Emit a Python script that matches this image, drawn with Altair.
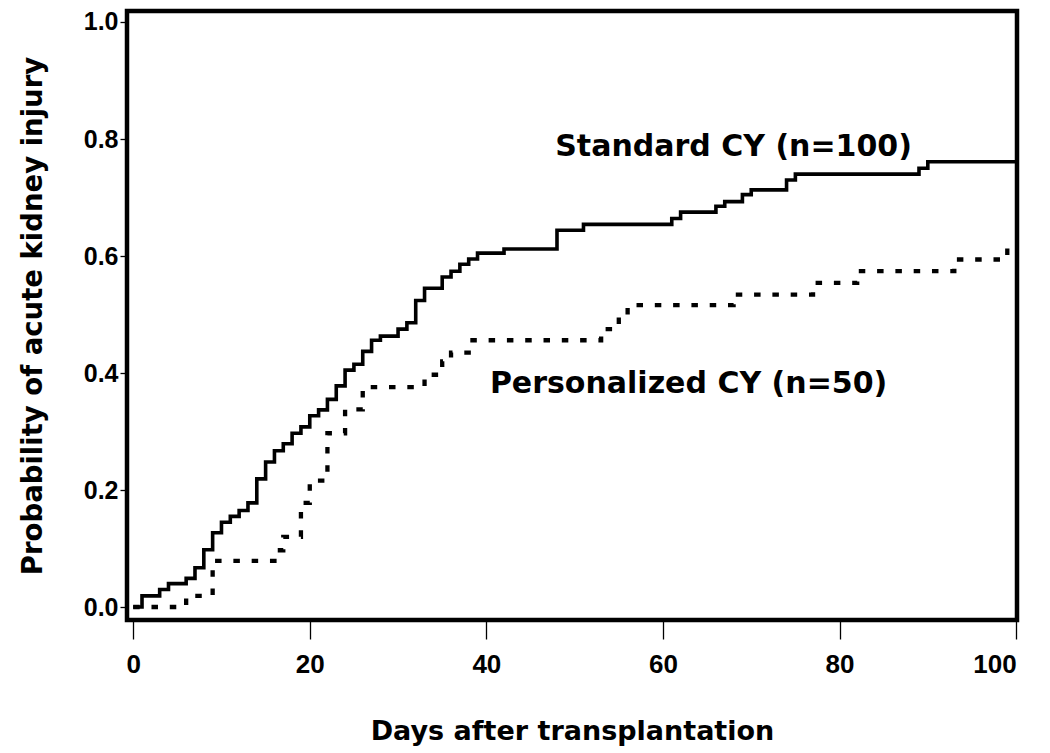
import altair as alt
import pandas as pd

# Standard CY (n=100): step points (day, cumulative probability)
std_days = [0, 1, 3, 4, 6, 7, 8, 9, 10, 11, 12, 13, 14, 15, 16, 17, 18, 19, 20, 21,
            22, 23, 24, 25, 26, 27, 28, 30, 31, 32, 33, 35, 36, 37, 38, 39, 42, 48, 51, 61,
            62, 66, 67, 69, 70, 74, 75, 89, 90, 100]
std_prob = [0, .019, .03, .04, .049, .067, .098, .127, .145, .155, .165, .178, .219, .248, .267, .279, .297, .308, .327, .337,
            .355, .378, .405, .415, .437, .456, .463, .475, .486, .524, .545, .564, .574, .586, .595, .605, .612, .644, .654, .664,
            .675, .685, .693, .705, .713, .730, .740, .750, .761, .761]

# Personalized CY (n=50)
per_days = [0, 6, 9, 16, 17, 19, 20, 22, 24, 26, 33, 35, 36, 38, 53, 55, 56, 68, 77, 82, 93, 99, 100]
per_prob = [0, .019, .079, .097, .12, .178, .216, .297, .338, .376, .397, .42, .435, .456, .475, .497, .516, .534, .554, .574, .594, .617, .617]

x_ticks = [0, 20, 40, 60, 80, 100]
y_ticks = [0.0, 0.2, 0.4, 0.6, 0.8, 1.0]

label_text = ["Standard CY (n=100)", "Personalized CY (n=50)"]
label_day = [47.8, 40.4]
label_prob = [0.787, 0.381]

std_df = pd.DataFrame({"day": std_days, "prob": std_prob})
per_df = pd.DataFrame({"day": per_days, "prob": per_prob})
lab_df = pd.DataFrame({"text": label_text, "day": label_day, "prob": label_prob})

xscale = alt.Scale(domain=[-0.7, 100.1], nice=False, zero=False)
yscale = alt.Scale(domain=[-0.0222, 1.0188], nice=False, zero=False)

xaxis = alt.Axis(values=x_ticks, title="Days after transplantation", grid=False, domain=False,
                 tickSize=19, tickWidth=1.3, tickColor="black",
                 labelFont="Liberation Sans", labelFontWeight="bold", labelFontSize=26,
                 labelColor="black", labelPadding=12,
                 titleFont="DejaVu Sans", titleFontWeight="bold", titleFontSize=27,
                 titleColor="black", titlePadding=41)
yaxis = alt.Axis(values=y_ticks, format=".1f", title="Probability of acute kidney injury",
                 grid=False, domain=False, tickSize=7, tickWidth=1.3, tickColor="black",
                 labelFont="Liberation Sans", labelFontWeight="bold", labelFontSize=25,
                 labelColor="black", labelPadding=2,
                 titleFont="DejaVu Sans", titleFontWeight="bold", titleFontSize=27.5,
                 titleColor="black", titlePadding=36)

std_line = alt.Chart(std_df).mark_line(interpolate="step-after", color="black", strokeWidth=3.6).encode(
    x=alt.X("day:Q", scale=xscale, axis=xaxis),
    y=alt.Y("prob:Q", scale=yscale, axis=yaxis),
)
per_line = alt.Chart(per_df).mark_line(interpolate="step-after", color="black", strokeWidth=4.3,
                                       strokeDash=[6.5, 11.8]).encode(
    x=alt.X("day:Q", scale=xscale),
    y=alt.Y("prob:Q", scale=yscale),
)
labels = alt.Chart(lab_df).mark_text(align="left", baseline="middle", font="DejaVu Sans",
                                     fontWeight="bold", fontSize=30, color="black").encode(
    x=alt.X("day:Q", scale=xscale),
    y=alt.Y("prob:Q", scale=yscale),
    text="text:N",
)

chart = alt.layer(std_line, per_line, labels).properties(
    width=890, height=609,
    autosize=alt.AutoSizeParams(type="none"),
    padding={"left": 119, "top": 3, "right": 20, "bottom": 133},
    background="white",
).configure_view(stroke="black", strokeWidth=4.5)

chart.save("out.html", embed_options={"renderer": "svg", "actions": False})
